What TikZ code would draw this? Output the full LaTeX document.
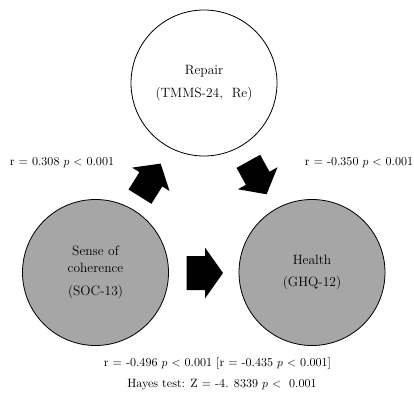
\documentclass[tikz,border=0pt]{standalone}
\usepackage{xcolor}
\usepackage{amsmath}
\usepackage{tikz}

% fat block arrow: position, angle, length, half shaft, half head, head length
\newcommand{\blockarrow}[6]{%
  \begin{scope}[shift={#1}, rotate=#2]
    \fill[black] (0,-#4) -- ({#3-#6},-#4) -- ({#3-#6},-#5) -- (#3,0)
      -- ({#3-#6},#5) -- ({#3-#6},#4) -- (0,#4) -- cycle;
  \end{scope}}

\begin{document}
\begin{tikzpicture}[
  txt/.style={font=\fontsize{11.5}{14.5}\selectfont, align=center, inner sep=0pt},
  coef/.style={font=\fontsize{10.3}{12.5}\selectfont, inner sep=0pt},
  var/.style={circle, draw=black, line width=0.7pt, minimum size=4.38cm, txt},
  given/.style={var, fill=black!35}
]

\useasboundingbox (0,0) rectangle (12.42,11.82);

% Mediador
\node[var, fill=white] (repair) at (6.12,9.33)
{Repair\\[4.5pt](TMMS-24,\ \ Re)};

% Variables
\node[given] (soc) at (2.865,3.645)
{Sense of\\coherence\\[4.5pt](SOC-13)};
\node[given] (health) at (9.36,3.645)
{Health\\[4.5pt](GHQ-12)};

% Flechas
\blockarrow{(4.2,5.92)}{58}{1.17}{0.405}{0.66}{0.555}
\blockarrow{(7.45,6.98)}{-61}{1.13}{0.405}{0.68}{0.55}
\blockarrow{(5.6,3.63)}{0}{1.09}{0.51}{0.765}{0.54}

% Coeficientes
\node[coef] (ra) at (1.86,6.93) {r = 0.308 $p$ $<$ 0.001};
\node[coef, anchor=east] (rb) at (12.4,6.93) {r = -0.350 $p$ $<$ 0.001};

\node[coef] (rc) at (6.525,0.93)
{r = -0.496 $p$ $<$ 0.001 [r = -0.435 $p$ $<$ 0.001]};
\node[coef] (hayes) at (6.66,0.27)
{Hayes test: Z = -4. 8339 $p$ $<$\ \ 0.001};

\end{tikzpicture}
\end{document}
